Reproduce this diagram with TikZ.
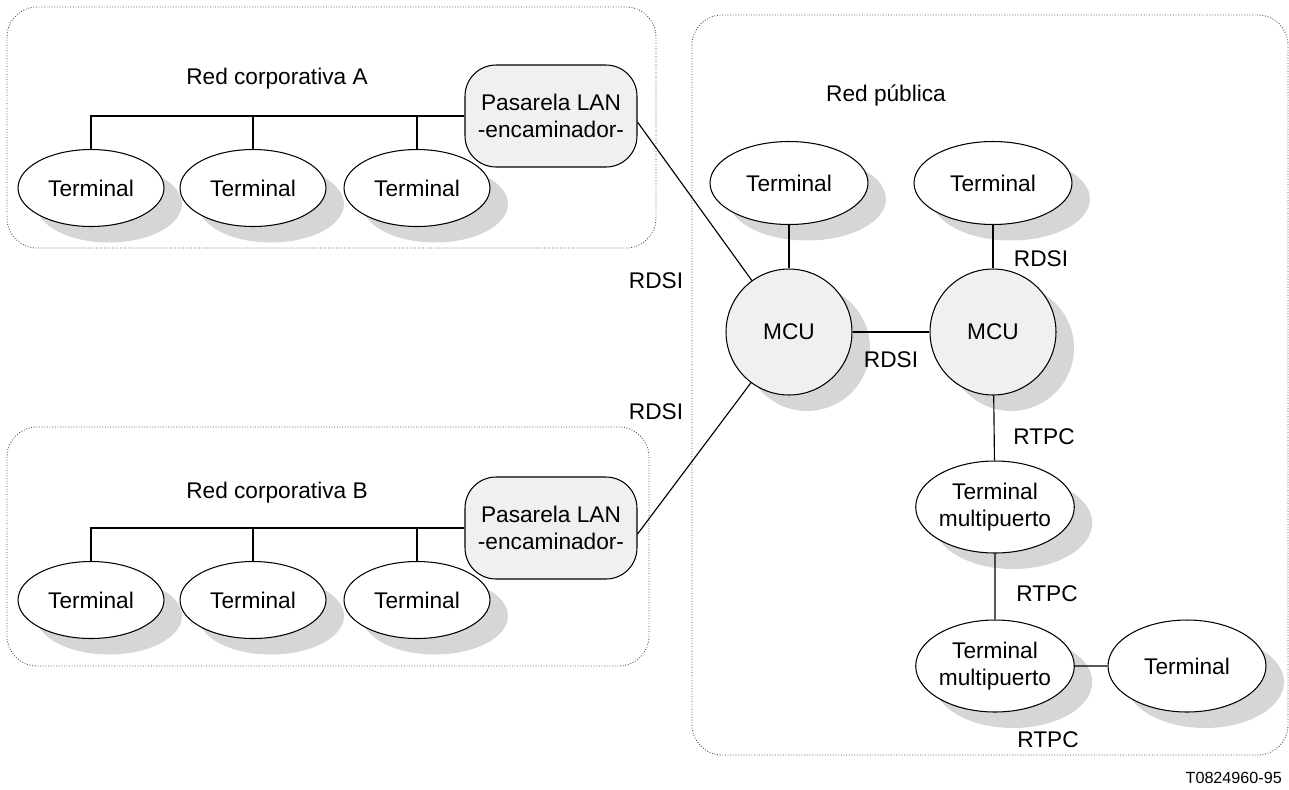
\documentclass[tikz,border=0pt]{standalone}
\usepackage{fontspec}
\setmainfont{Liberation Sans}
\usetikzlibrary{shapes.geometric,shadows}

\begin{document}
\begin{tikzpicture}[x=0.02cm,y=-0.02cm,
  font=\fontsize{12.9}{15}\selectfont,
  shadowed/.style={drop shadow={shadow xshift=0.36cm,shadow yshift=-0.32cm,fill=black!16,opacity=1}},
  terminal/.style={ellipse,draw,fill=white,line width=0.6pt,inner sep=0pt,minimum width=2.92cm,minimum height=1.54cm,shadowed},
  bigterminal/.style={terminal,minimum width=3.16cm,minimum height=1.66cm},
  multiport/.style={terminal,minimum width=3.16cm,minimum height=1.84cm,align=center},
  mcu/.style={circle,draw,fill=black!6,line width=0.6pt,minimum size=2.52cm,shadowed},
  gateway/.style={rectangle,rounded corners=0.62cm,draw,fill=black!6,line width=0.6pt,minimum width=3.44cm,minimum height=2.04cm,align=center},
  netbox/.style={densely dotted,black!70,rounded corners=0.6cm,line width=0.5pt},
  link/.style={line width=0.65pt}]
\useasboundingbox (0,0) rectangle (1289,789);

% network areas
\draw[netbox] (7,7) rectangle (656,248);
\draw[netbox] (7,427) rectangle (649,666);
\draw[netbox] (692,15) rectangle (1288,755);

% Red corporativa A
\node (titleA) at (277,79) {Red corporativa A};
\node[terminal] (ta1) at (91,188) {Terminal};
\node[terminal] (ta2) at (253,188) {Terminal};
\node[terminal] (ta3) at (417,188) {Terminal};
\node[gateway] (gwA) at (551,116) {Pasarela LAN\\-encaminador-};

% Red corporativa B
\node (titleB) at (277,493) {Red corporativa B};
\node[terminal] (tb1) at (91,600) {Terminal};
\node[terminal] (tb2) at (253,600) {Terminal};
\node[terminal] (tb3) at (417,600) {Terminal};
\node[gateway] (gwB) at (551,528) {Pasarela LAN\\-encaminador-};

% Red publica
\node (titleP) at (886,95) {Red pública};
\node[bigterminal] (tp1) at (789,183) {Terminal};
\node[bigterminal] (tp2) at (993,183) {Terminal};
\node[mcu] (mcu1) at (789,332) {MCU};
\node[mcu] (mcu2) at (993,332) {MCU};
\node[multiport] (mp1) at (995,507) {Terminal\\multipuerto};
\node[multiport] (mp2) at (995,666) {Terminal\\multipuerto};
\node[multiport] (tp3) at (1187,666) {Terminal};

% LAN buses
\draw[link] (gwA.west) -| (ta1.north) (ta2.north) -- (ta2.north |- gwA.west) (ta3.north) -- (ta3.north |- gwA.west);
\draw[link] (gwB.west) -| (tb1.north) (tb2.north) -- (tb2.north |- gwB.west) (tb3.north) -- (tb3.north |- gwB.west);

% links
\draw[link] (gwA.-4) -- (mcu1) (gwB.-4) -- (mcu1);
\draw[link] (tp1) -- (mcu1) (tp2) -- (mcu2) (mcu1) -- (mcu2);
\draw[link] (mcu2) -- (mp1) (mp1) -- (mp2) (mp2) -- (tp3);

\node (rdsi1) at (656,281) {RDSI};
\node (rdsi2) at (656,412) {RDSI};
\node (rdsi3) at (1041,259) {RDSI};
\node (rdsi4) at (891,360) {RDSI};
\node (rtpc1) at (1044,437) {RTPC};
\node (rtpc2) at (1047,594) {RTPC};
\node (rtpc3) at (1048,740) {RTPC};
\node[anchor=east,font=\fontsize{9.2}{11}\selectfont] (code) at (1288,778) {T0824960-95};
\end{tikzpicture}
\end{document}
